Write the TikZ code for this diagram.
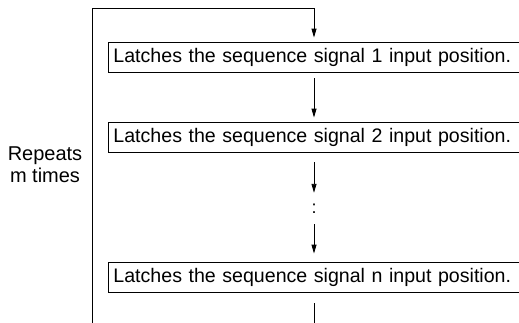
\documentclass[tikz,border=0pt]{standalone}
\usepackage{fontspec}
\setmainfont{Liberation Sans}
\usetikzlibrary{arrows.meta}
\begin{document}
\begin{tikzpicture}[x=1pt,y=-1pt,
  line/.style={draw=black,line width=0.9pt},
  arr/.style={line,-{Triangle[length=9pt,width=5pt]}},
  stepbox/.style={draw=black,line width=0.9pt,anchor=west,minimum height=30pt,
    text width=412pt,inner xsep=5pt,inner ysep=0pt,align=left,
    font=\fontsize{19.6}{23}\selectfont}]
\useasboundingbox (0,0) rectangle (519,322);
\clip (0,0) rectangle (519,322);
\node[stepbox] (b1) at (108,57) {Latches the sequence signal 1 input position.};
\node[stepbox] (b2) at (108,137) {Latches the sequence signal 2 input position.};
\node[stepbox] (b3) at (108,277) {Latches the sequence signal n input position.};
\coordinate (bl) at (92,330);
\coordinate (tl) at (92,8);
\coordinate (tr) at (314,8);
\coordinate (be) at (314,330);
\node[inner sep=0pt,minimum height=31pt,font=\fontsize{18}{18}\selectfont] (dots) at (314,208.5) {:};
\node[align=center,inner sep=0pt,font=\fontsize{20}{22}\selectfont] (rep) at (45,165) {Repeats\\m times};
\draw[arr,shorten >=4pt] (bl) -- (tl) -- (tr) -- (tr |- b1.north);
\draw[arr,shorten <=6pt,shorten >=4pt] (tr |- b1.south) -- (tr |- b2.north);
\draw[arr,shorten <=10pt] (tr |- b2.south) -- (dots.north);
\draw[arr,shorten >=8pt] (dots.south) -- (tr |- b3.north);
\draw[line,shorten <=11pt] (tr |- b3.south) -- (be);
\end{tikzpicture}
\end{document}
